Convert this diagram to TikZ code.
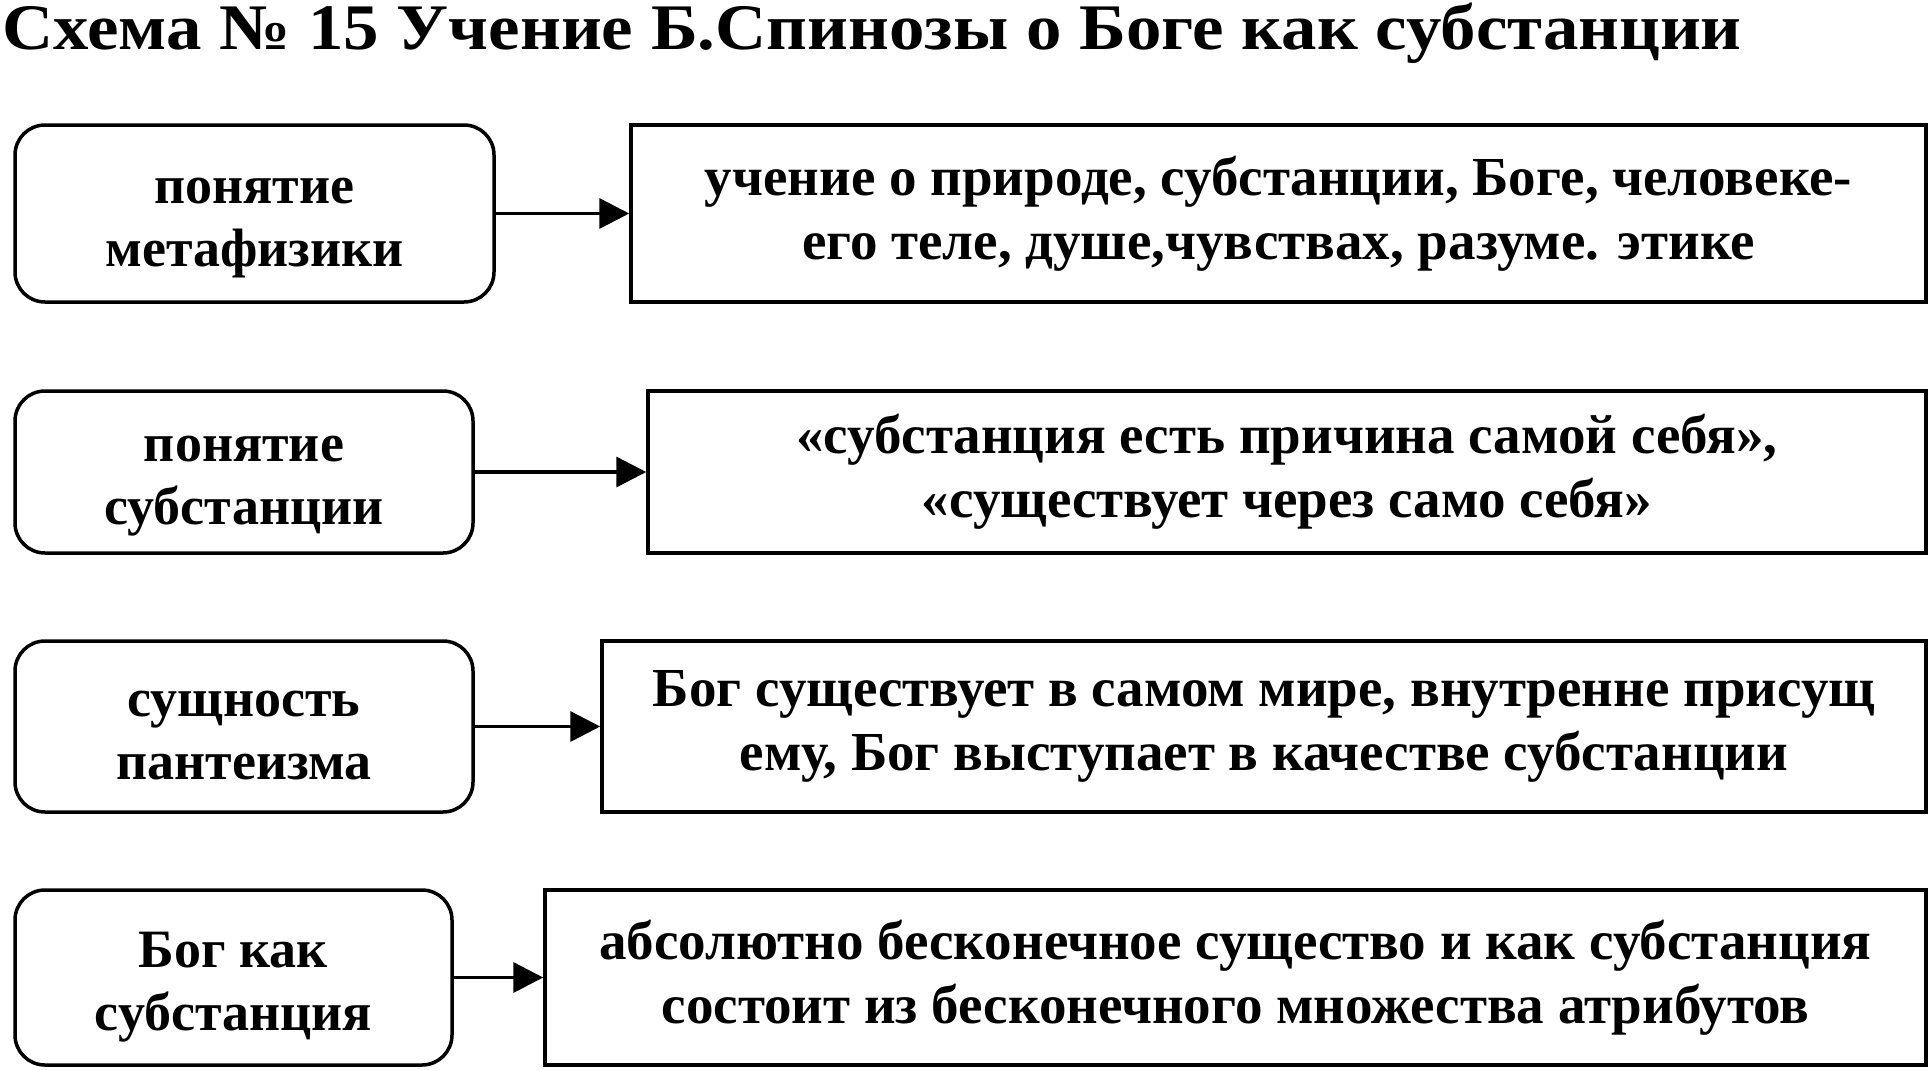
\documentclass[tikz,border=0pt]{standalone}
\usepackage{fontspec}
\setmainfont{Liberation Serif}
\newfontfamily\titlefont[FakeStretch=1.09]{Liberation Serif}
\usetikzlibrary{arrows.meta}

\tikzset{
	lbox/.style={draw, line width=3.5pt, rounded corners=30pt, align=center, inner sep=0pt,
		text height=105pt, text depth=0pt, font=\bfseries\fontsize{54}{63}\selectfont},
	rbox/.style={draw, line width=3.5pt, align=center, inner sep=0pt,
		font=\bfseries\fontsize{55}{64}\selectfont},
	arr/.style={-{Triangle[length=30pt,width=30pt]}, line width=3.5pt}
}

\begin{document}
\begin{tikzpicture}[x=1pt,y=-1pt]
			\useasboundingbox (0,0) rectangle (1928,1069);

			\node[anchor=base west, inner sep=0pt, font=\titlefont\bfseries\fontsize{65}{75}\selectfont] (title) at (2,49)
				{Схема № 15 Учение Б.Спинозы о Боге как субстанции};

			\node[lbox, minimum width=479pt, minimum height=177pt] (L1) at (254.5, 213.5) {понятие\\метафизики};
			\node[rbox, minimum width=1295pt, minimum height=177pt] (R1) at (1278.5, 213.5)
				{учение о природе, субстанции, Боге, человеке-\\его теле, душе,чувствах, разуме. этике};

			\node[lbox, minimum width=458pt, minimum height=162pt] (L2) at (244, 472) {понятие\\субстанции};
			\node[rbox, minimum width=1278pt, minimum height=162pt] (R2) at (1287, 472)
				{«субстанция есть причина самой себя»,\\«существует через само себя»};

			\node[lbox, minimum width=458pt, minimum height=171pt] (L3) at (244, 726.5) {сущность\\пантеизма};
			\node[rbox, minimum width=1324pt, minimum height=171pt] (R3) at (1264, 726.5)
				{Бог существует в самом мире, внутренне присущ\\ему, Бог выступает в качестве субстанции};

			\node[lbox, minimum width=437pt, minimum height=175pt] (L4) at (233.5, 977.5) {Бог как\\субстанция};
			\node[rbox, minimum width=1381pt, minimum height=175pt] (R4) at (1235.5, 977.5)
				{абсолютно бесконечное существо и как субстанция\\состоит из бесконечного множества атрибутов};

			\draw[arr] (L1) -- (R1);
			\draw[arr] (L2) -- (R2);
			\draw[arr] (L3) -- (R3);
			\draw[arr] (L4) -- (R4);
		\end{tikzpicture}
\end{document}
